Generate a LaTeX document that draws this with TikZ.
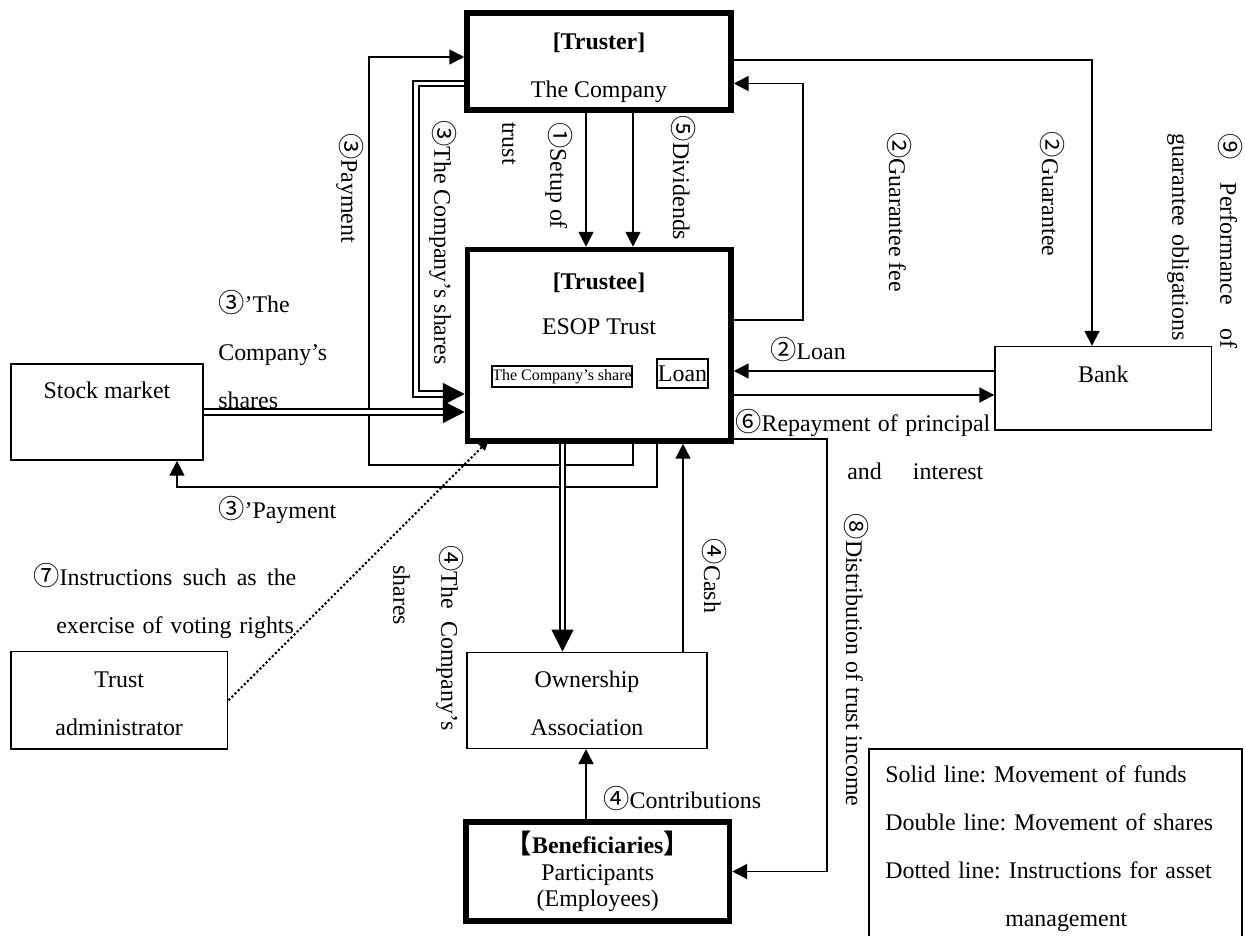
\documentclass[tikz,border=0pt]{standalone}
\usepackage{fontspec}
\setmainfont{Liberation Serif}
\newfontfamily\cjk[Scale=1.1]{Noto Sans CJK JP}
\usetikzlibrary{arrows.meta}
\newcommand{\cnum}[1]{{\cjk #1}}
\frenchspacing

\tikzset{
  box/.style={draw, line width=0.9pt, align=center, inner sep=0pt},
  bigbox/.style={box, line width=3.2pt},
  fund/.style={line width=1.1pt, -{Triangle[length=8.5pt,width=8.5pt]}},
  share/.style={double, line width=1pt, double distance=2pt, -{Triangle[length=12.5pt,width=12.5pt]}},
  instr/.style={line width=1.2pt, dash pattern=on 1.2pt off 1.3pt, -{Triangle[length=6pt,width=5pt]}},
  lbl/.style={inner sep=0pt},
  vlbl/.style={lbl, rotate=-90},
}

\begin{document}
\begin{tikzpicture}[x=0.02cm, y=-0.02cm,
  every node/.style={font=\fontsize{13.6pt}{27.3pt}\selectfont}]
\clip (0,0) rectangle (1245,936);

% boxes
\node[bigbox, minimum width=5.28cm, minimum height=1.94cm] (truster) at (599,61.5) {};
\node[lbl, align=center] (trustertxt) at (599,68) {\textbf{[Truster]}\\The Company};
\node[bigbox, minimum width=5.27cm, minimum height=3.83cm] (trustee) at (599.25,345.25) {};
\node[lbl, align=center, font=\fontsize{13.6pt}{25.6pt}\selectfont] (trusteetxt) at (599,303.5) {\textbf{[Trustee]}\\ESOP Trust};
\node[box, line width=0.8pt, font=\fontsize{9.1pt}{11pt}\selectfont, minimum width=2.8cm, minimum height=0.42cm] (coshare) at (562,376.5) {The Company's share};
\node[box, line width=0.8pt, minimum width=1.02cm, minimum height=0.58cm] (loanbox) at (682.5,373.5) {Loan};
\node[box, minimum width=4.33cm, minimum height=1.67cm, text height=10pt, text depth=17pt] (bank) at (1103.3,388.3) {Bank};
\node[box, minimum width=3.85cm, minimum height=1.92cm, text height=10pt, text depth=25pt] (stock) at (107,412) {Stock market};
\node[box, minimum width=4.34cm, minimum height=1.95cm] (tadmin) at (119.2,700.3) {};
\node[lbl, align=center] (tadmintxt) at (119.2,704) {Trust\\administrator};
\node[box, minimum width=4.81cm, minimum height=1.92cm] (owner) at (587,700.3) {};
\node[lbl, align=center] (ownertxt) at (587,703.5) {Ownership\\Association};
\node[bigbox, minimum width=5.27cm, minimum height=1.98cm, font=\fontsize{13.6pt}{15.1pt}\selectfont] (benef) at (597.75,871.5) {\textbf{\cnum{【}Beneficiaries\cnum{】}}\\Participants\\(Employees)};
\node[box, anchor=north west, minimum width=7.46cm, minimum height=4.2cm] (legend) at (868,748) {};
\node[lbl, anchor=north west, text width=7.24cm, align=left] (legendtxt) at (885,765) {Solid line: Movement of funds\\Double line: Movement of shares\\Dotted line: Instructions for asset\\\hspace*{\fill}management\hspace*{\fill}\mbox{}};

% bends of the connectors
\coordinate (p3a) at (633,465);
\coordinate (p3b) at (369,465);
\coordinate (p3c) at (369,57);
\coordinate (s3a) at (416,83.5);
\coordinate (s3b) at (416,394);
\coordinate (p3pa) at (657,487);
\coordinate (p3pb) at (177,487);
\coordinate (xsetup) at (586,0);
\coordinate (xdiv) at (633,0);
\coordinate (gfa) at (803,320);
\coordinate (gfb) at (803,83.5);
\coordinate (gua) at (1092,60);
\coordinate (yloan) at (0,371);
\coordinate (yrepay) at (0,395);
\coordinate (dista) at (827,439);
\coordinate (xsh4) at (562.5,0);
\coordinate (xcash) at (683,0);
\coordinate (xcontr) at (586,0);
\coordinate (instrend) at (489,440);

% connectors
\draw[fund] (trustee.south -| p3a) -- (p3a) -- (p3b) -- (p3c) -- (p3c -| truster.west);
\draw[share] (s3a -| truster.west) -- (s3a) -- (s3b) -- (s3b -| trustee.west);
\draw[share] (stock.east) -- (stock.east -| trustee.west);
\draw[fund] (trustee.south -| p3pa) -- (p3pa) -- (p3pb) -- (p3pb |- stock.south);
\draw[fund] (truster.south -| xsetup) -- (trustee.north -| xsetup);
\draw[fund] (truster.south -| xdiv) -- (trustee.north -| xdiv);
\draw[fund] (gfa -| trustee.east) -- (gfa) -- (gfb) -- (gfb -| truster.east);
\draw[fund] (gua -| truster.east) -- (gua) -- (gua |- bank.north);
\draw[fund] (yloan -| bank.west) -- (yloan -| trustee.east);
\draw[fund] (yrepay -| trustee.east) -- (yrepay -| bank.west);
\draw[fund] (dista -| trustee.east) -- (dista) -- (dista |- benef.east) -- (benef.east);
\draw[share] (trustee.south -| xsh4) -- (owner.north -| xsh4);
\draw[fund] (owner.north -| xcash) -- (trustee.south -| xcash);
\draw[fund] (benef.north -| xcontr) -- (owner.south -| xcontr);
\draw[instr] (tadmin.east) -- (instrend);

% labels
\node[vlbl] (lpay3) at (350,188) {\cnum{③}Payment};
\node[vlbl] (lsh3) at (443,242.5) {\cnum{③}The Company's shares};
\node[vlbl, anchor=north west, align=left] (lsetup) at (573,122) {\cnum{①}Setup of\\trust};
\node[vlbl] (ldiv) at (683,178) {\cnum{⑤}Dividends};
\node[vlbl] (lgf) at (899,212) {\cnum{②}Guarantee fee};
\node[vlbl] (lgu) at (1052,194) {\cnum{②}Guarantee};
\node[vlbl, anchor=north west, text width=4.3cm, align=left] (lperf) at (1243,133) {\cnum{⑨}\hspace{\fill}Performance\hspace{\fill}of\\guarantee obligations};
\node[lbl, anchor=north west, align=left] (lsh3p) at (218,290) {\cnum{③}'The\\Company's\\shares};
\node[lbl, anchor=west] (lpay3p) at (218,510) {\cnum{③}'Payment};
\node[lbl, anchor=west] (lloan) at (770,350) {\cnum{②}Loan};
\node[lbl, anchor=north west, text width=5.1cm, align=left] (lrepay) at (735,409) {\cnum{⑥}Repayment\hspace{\fill}of\hspace{\fill}principal\\\hspace*{2.24cm}and\hspace{\fill}interest\hspace*{0.14cm}\mbox{}};
\node[vlbl, anchor=north west, text width=3.7cm, align=left] (lsh4) at (464,545) {\cnum{④}The\hspace{\fill}Company's\\\hspace*{0.4cm}shares};
\node[vlbl] (lcash) at (714,576) {\cnum{④}Cash};
\node[vlbl] (ldist) at (856,660) {\cnum{⑧}Distribution of trust income};
\node[lbl, anchor=west] (lcontr) at (603,799) {\cnum{④}Contributions};
\node[lbl, anchor=north west, text width=5.26cm, align=left] (linstr) at (33,563) {\cnum{⑦}Instructions\hspace{\fill}such\hspace{\fill}as\hspace{\fill}the\\\hspace*{0.46cm}exercise of voting rights};
\end{tikzpicture}
\end{document}
